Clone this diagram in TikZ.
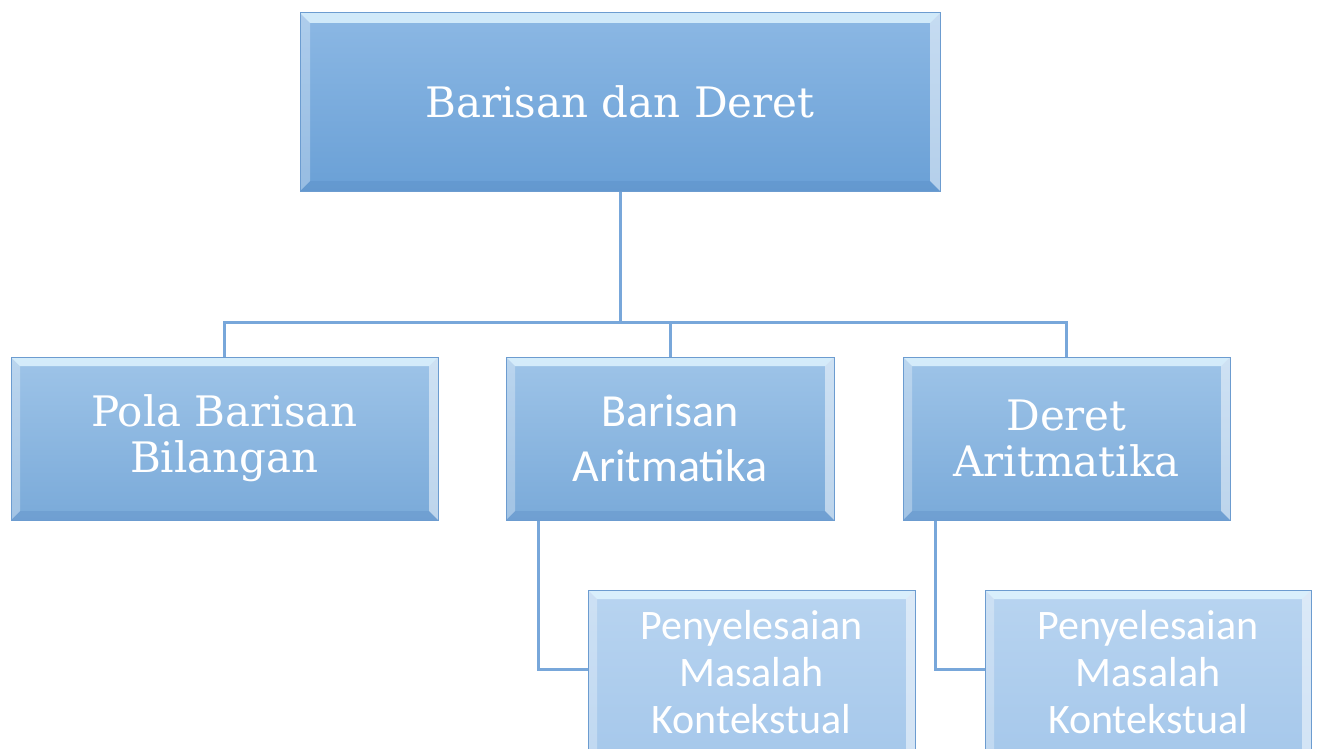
\documentclass[tikz,border=0pt]{standalone}
\usepackage{fontspec}
\newfontfamily\serifbox{DejaVu Serif}
\newfontfamily\sansbox{Carlito}
\usetikzlibrary{calc}
\definecolor{edgec}{RGB}{108,156,208}
\definecolor{linkc}{RGB}{120,167,218}
\definecolor{topA}{RGB}{140,184,228}
\definecolor{topB}{RGB}{106,160,214}
\definecolor{midA}{RGB}{158,196,232}
\definecolor{midB}{RGB}{122,170,217}
\definecolor{lowA}{RGB}{184,212,240}
\definecolor{lowB}{RGB}{166,200,235}
\definecolor{bevtop}{RGB}{226,246,255}
\definecolor{bevdark}{RGB}{80,130,190}
\tikzset{
  bevel/.style={path picture={
    \path (path picture bounding box.south west) coordinate (bsw)
          (path picture bounding box.north east) coordinate (bne);
    \fill[bevtop,opacity=.8] (bsw|-bne) -- (bne) -- ($(bne)+(-#1,-#1)$) -- ($(bsw|-bne)+(#1,-#1)$) -- cycle;
    \fill[bevdark,opacity=.25] (bsw) -- (bsw-|bne) -- ($(bsw-|bne)+(-#1,#1)$) -- ($(bsw)+(#1,#1)$) -- cycle;
    \fill[white,opacity=.3] (bsw) -- (bsw|-bne) -- ($(bsw|-bne)+(#1,-#1)$) -- ($(bsw)+(#1,#1)$) -- cycle;
    \fill[white,opacity=.5] (bne) -- (bsw-|bne) -- ($(bsw-|bne)+(-#1,#1)$) -- ($(bne)+(-#1,-#1)$) -- cycle;
  }},
  bevelopen/.style={path picture={
    \path (path picture bounding box.south west) coordinate (bsw)
          (path picture bounding box.north east) coordinate (bne);
    \fill[bevtop,opacity=.8] (bsw|-bne) -- (bne) -- ($(bne)+(-#1,-#1)$) -- ($(bsw|-bne)+(#1,-#1)$) -- cycle;
    \fill[white,opacity=.3] (bsw) -- (bsw|-bne) -- ($(bsw|-bne)+(#1,-#1)$) -- ($(bsw)+(#1,0)$) -- cycle;
    \fill[white,opacity=.5] (bne) -- (bsw-|bne) -- ($(bsw-|bne)+(-#1,0)$) -- ($(bne)+(-#1,-#1)$) -- cycle;
  }},
  box/.style={draw=edgec, line width=1pt, rectangle, inner sep=0pt, text=white, align=center},
  topbox/.style={box, top color=topA, bottom color=topB, bevel=10pt,
    font={\serifbox\fontsize{42}{50}\selectfont}},
  midserif/.style={box, top color=midA, bottom color=midB, bevel=9pt,
    font={\serifbox\fontsize{42}{46}\selectfont}},
  midsans/.style={box, top color=midA, bottom color=midB, bevel=9pt,
    font={\sansbox\fontsize{46}{55}\selectfont}},
  lowbox/.style={box, top color=lowA, bottom color=lowB, bevelopen=9pt,
    font={\sansbox\fontsize{42}{47}\selectfont}},
  conn/.style={draw=linkc, line width=3pt},
}
\begin{document}
\begin{tikzpicture}[x=1pt,y=-1pt]
\clip (0,0) rectangle (1317,749);
\fill[white] (0,0) rectangle (1317,749);
\node[topbox, minimum width=640pt, minimum height=178pt] (top) at (620,102) {Barisan dan Deret};
\node[midserif, minimum width=427pt, minimum height=163pt] (pola) at (224.5,438.5) {Pola Barisan\\Bilangan};
\node[midsans, minimum width=328pt, minimum height=163pt] (bar) at (670,438.5) {Barisan\\Aritmatika};
\node[midserif, minimum width=327pt, minimum height=163pt] (der) at (1066.5,438.5) {Deret\\Aritmatika};
\node[lowbox, minimum width=327pt, minimum height=164pt] (pm1) at (751.5,672) {Penyelesaian\\Masalah\\Kontekstual};
\node[lowbox, minimum width=326pt, minimum height=164pt] (pm2) at (1148,672) {Penyelesaian\\Masalah\\Kontekstual};
\coordinate (hub) at (top.south |- 0,322);
\draw[conn] (top.south) -- (hub);
\draw[conn] (pola.north) |- (hub);
\draw[conn] (bar.north) |- (hub);
\draw[conn] (der.north) |- (hub);
\draw[conn] ($(bar.south west)+(33pt,0)$) |- ($(pm1.north west)+(0,-80pt)$);
\draw[conn] ($(der.south west)+(33pt,0)$) |- ($(pm2.north west)+(0,-80pt)$);
\end{tikzpicture}
\end{document}
